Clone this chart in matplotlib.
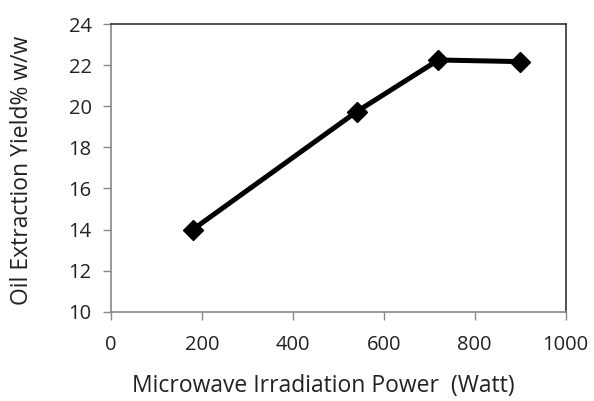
import matplotlib.pyplot as plt

plt.rcParams['font.family'] = ['Open Sans', 'DejaVu Sans']

power = [180, 540, 720, 900]
yield_pct = [14.0, 19.73, 22.25, 22.17]
x_ticks = [0, 200, 400, 600, 800, 1000]
y_ticks = [10, 12, 14, 16, 18, 20, 22, 24]

fig = plt.figure(figsize=(5.94, 4.01), dpi=100)
ax = fig.add_axes([0.1869, 0.2227, 0.7654, 0.7174])

ax.plot(power, yield_pct, color='black', lw=3.6, marker='D', markersize=10,
        solid_joinstyle='miter')

ax.set_xlim(0, 1000)
ax.set_ylim(10, 24)
ax.set_xticks(x_ticks)
ax.set_yticks(y_ticks)
ax.tick_params(labelsize=14.5, colors='#222222', length=6, width=1)
ax.tick_params(axis='x', pad=11, color='#888888')
ax.tick_params(axis='y', pad=8, color='#888888')

for s in ['left', 'bottom']:
    ax.spines[s].set_color('#888888')
    ax.spines[s].set_linewidth(1.2)
for s in ['top', 'right']:
    ax.spines[s].set_color('#333333')
    ax.spines[s].set_linewidth(1.2)

fig.text(0.545, 0.037, 'Microwave Irradiation Power  (Watt)', ha='center',
         va='center', fontsize=16.5, color='#222222')
fig.text(0.037, 0.575, 'Oil Extraction Yield% w/w', ha='center', va='center',
         rotation=90, fontsize=16.5, color='#222222')

fig.savefig('out.png', dpi=100)
